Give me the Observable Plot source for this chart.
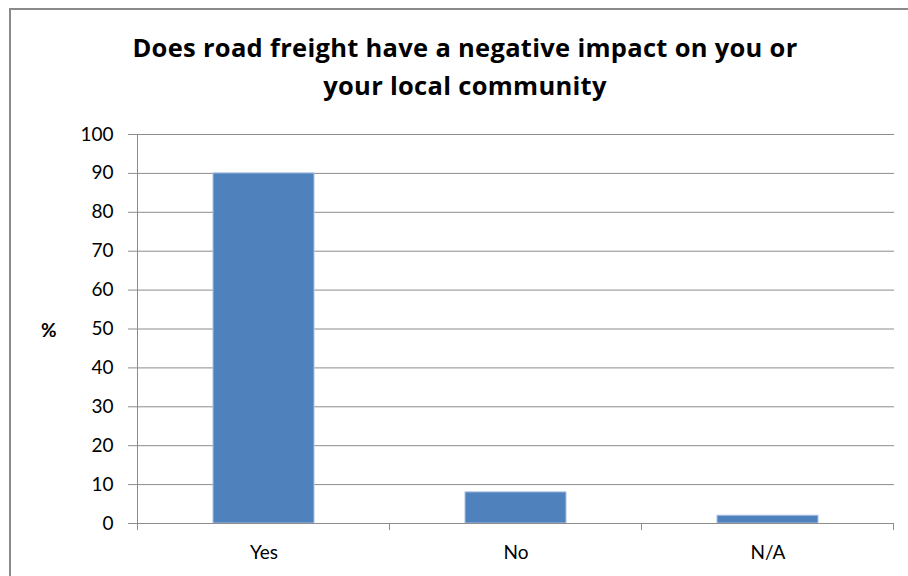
<!DOCTYPE html>
<html>
<head>
<meta charset="utf-8">
<script src="https://cdn.jsdelivr.net/npm/d3@7"></script>
<script src="https://cdn.jsdelivr.net/npm/@observablehq/plot@0.6"></script>
<style>
  html, body { margin: 0; padding: 0; background: #fff; }
  #wrap { position: relative; width: 908px; height: 576px; overflow: hidden; font-family: Lato, "Open Sans", sans-serif; }
  #frame { position: absolute; left: 9px; top: 8px; width: 920px; height: 600px; border-left: 2px solid #8a8a8a; border-top: 2px solid #8a8a8a; box-sizing: border-box; }
  #title { position: absolute; left: 0; width: 930px; top: 28px; text-align: center; font-family: "Open Sans", sans-serif; font-weight: bold; font-size: 25.5px; letter-spacing: 0.3px; line-height: 38px; color: #000; }
  #ylab { position: absolute; left: 41px; top: 318px; font-size: 19px; font-weight: bold; color: #000; }
  #chart { position: absolute; left: 0; top: 0; }
</style>
</head>
<body>
<div id="wrap">
  <div id="chart"></div>
  <div id="frame"></div>
  <div id="title">Does road freight have a negative impact on you or<br>your local community</div>
  <div id="ylab">%</div>
</div>
<script>
const categories = ["Yes", "No", "N/A"];
const values = [90, 8, 2];
const yTicks = [0, 10, 20, 30, 40, 50, 60, 70, 80, 90, 100];

const data = categories.map((c, i) => ({category: c, value: values[i]}));
const gridTicks = yTicks.filter(t => t > 0);

const chart = Plot.plot({
  width: 908,
  height: 576,
  marginLeft: 136,
  marginRight: 14,
  marginTop: 134,
  marginBottom: 53,
  style: {fontFamily: "Lato, 'Open Sans', sans-serif", fontSize: "19px", color: "#000", background: "transparent"},
  x: {domain: categories, paddingInner: 0.6, paddingOuter: 0.3, label: null},
  y: {domain: [0, 100], label: null},
  marks: [
    Plot.ruleY(gridTicks, {stroke: "#8c8c8c", strokeWidth: 1}),
    Plot.barY(data, {x: "category", y: "value", fill: "#4f81bd", stroke: "#a9c1e0", strokeWidth: 1}),
    Plot.ruleY([0], {stroke: "#8c8c8c", strokeWidth: 1.2}),
    Plot.axisY({ticks: yTicks, tickSize: 8, tickPadding: 15, stroke: "#8c8c8c", fill: "#000", fontSize: 19, label: null}),
    Plot.axisX({tickSize: 0, tickPadding: 22, fontSize: 19, label: null})
  ]
});
document.getElementById("chart").appendChild(chart);

// Category boundary tick marks and y-axis line, positioned through the chart's scales
const xs = chart.scale("x");
const ys = chart.scale("y");
const svg = d3.select(chart);
const step = xs.step;
const boundaries = [];
categories.forEach((c, i) => {
  const start = xs.apply(c) - (step - xs.bandwidth) / 2;
  boundaries.push(start);
  if (i === categories.length - 1) boundaries.push(start + step);
});
svg.append("g").selectAll("line").data(boundaries).join("line")
  .attr("x1", d => d).attr("x2", d => d)
  .attr("y1", ys.apply(0)).attr("y2", ys.apply(0) + 7)
  .attr("stroke", "#8c8c8c");
svg.append("line")
  .attr("x1", boundaries[0]).attr("x2", boundaries[0])
  .attr("y1", ys.apply(100)).attr("y2", ys.apply(0) + 4)
  .attr("stroke", "#8c8c8c");
</script>
</body>
</html>
